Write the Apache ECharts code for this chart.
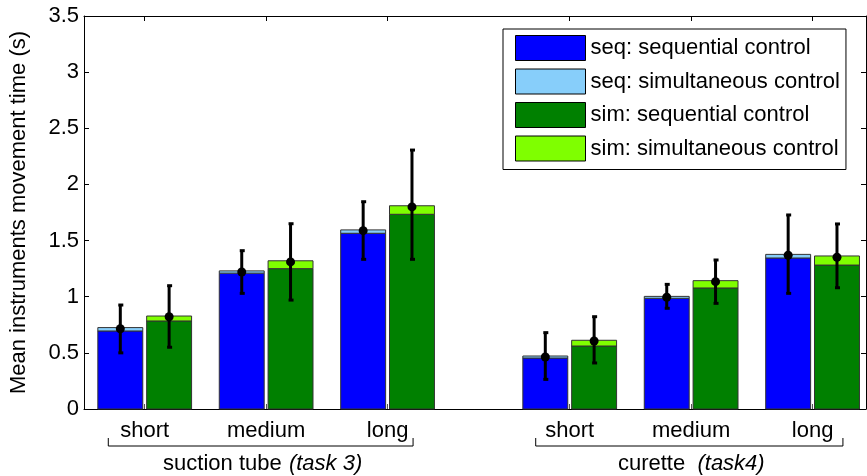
<!DOCTYPE html>
<html>
<head>
<meta charset="utf-8">
<script src="https://cdn.jsdelivr.net/npm/echarts@6/dist/echarts.min.js"></script>
<style>html,body{margin:0;padding:0;background:#fff}#c{width:867px;height:476px}</style>
</head>
<body>
<div id="c"></div>
<script>
// ---- data ----
const catLabels = ['short', 'medium', 'long', 'short', 'medium', 'long'];
const xPos = [1, 2, 3, 4.5, 5.5, 6.5];
const groupNames = ['suction tube', 'curette'];
const groupTasks = ['(task 3)', '(task4)'];
const groupStart = [0.70, 4.22];
const groupEnd = [3.21, 6.75];
const yTicks = [0, 0.5, 1, 1.5, 2, 2.5, 3, 3.5];

// seq condition (stacked): sequential control part + simultaneous control part
const seqSequential = [0.695, 1.21, 1.565, 0.454, 0.986, 1.345];
const seqSimultaneous = [0.03, 0.02, 0.03, 0.018, 0.017, 0.032];
const seqMean = [0.715, 1.22, 1.588, 0.463, 0.995, 1.369];
const seqLow = [0.50, 1.03, 1.333, 0.264, 0.897, 1.03];
const seqHigh = [0.926, 1.41, 1.846, 0.68, 1.11, 1.728];

// sim condition (stacked)
const simSequential = [0.784, 1.25, 1.734, 0.561, 1.078, 1.282];
const simSimultaneous = [0.044, 0.07, 0.076, 0.051, 0.065, 0.081];
const simMean = [0.822, 1.31, 1.80, 0.606, 1.134, 1.351];
const simLow = [0.55, 0.97, 1.333, 0.41, 0.941, 1.08];
const simHigh = [1.098, 1.65, 2.306, 0.822, 1.327, 1.648];

const names = ['seq: sequential control', 'seq: simultaneous control', 'sim: sequential control', 'sim: simultaneous control'];
const colors = ['#0000FF', '#87CEFA', '#008000', '#7FFF00'];

const FONT = 'Liberation Sans, Arial, sans-serif';
const FS = 22;
const BAR_W = 0.37;   // in x units
const OFF = 0.201;    // centre offset in x units

function barRender(offset, color) {
  return function (params, api) {
    const x = api.value(0), y0 = api.value(1), y1 = api.value(2);
    const p0 = api.coord([x + offset, y0]);
    const p1 = api.coord([x + offset, y1]);
    const w = api.size([BAR_W, 0])[0];
    return {
      type: 'rect',
      shape: { x: p0[0] - w / 2, y: p1[1], width: w, height: p0[1] - p1[1] },
      style: { fill: color, stroke: '#333', lineWidth: 1 }
    };
  };
}

function errRender(offset) {
  return function (params, api) {
    const x = api.value(0) + offset;
    const pm = api.coord([x, api.value(1)]);
    const pl = api.coord([x, api.value(2)]);
    const ph = api.coord([x, api.value(3)]);
    const cx = pm[0];
    const st = { stroke: '#000', lineWidth: 3 };
    return {
      type: 'group',
      children: [
        { type: 'line', shape: { x1: cx, y1: pl[1], x2: cx, y2: ph[1] }, style: st },
        { type: 'line', shape: { x1: cx - 2, y1: pl[1], x2: cx + 3, y2: pl[1] }, style: st },
        { type: 'line', shape: { x1: cx - 2, y1: ph[1], x2: cx + 3, y2: ph[1] }, style: st },
        { type: 'circle', shape: { cx: cx, cy: pm[1], r: 4.5 }, style: { fill: '#000' } }
      ]
    };
  };
}

function groupRender(params, api) {
  const i = params.dataIndex;
  const a = api.coord([api.value(0), 0]);
  const b = api.coord([api.value(1), 0]);
  const yb = a[1];
  return {
    type: 'group',
    children: [
      { type: 'polyline', shape: { points: [[a[0], yb + 29], [a[0], yb + 37], [b[0], yb + 37], [b[0], yb + 29]] },
        style: { stroke: '#000', lineWidth: 1, fill: null } },
      { type: 'text', style: {
          text: '{n|' + groupNames[i] + '\u00a0}{s|\u00a0}{t|' + groupTasks[i] + '}',
          x: (a[0] + b[0]) / 2 + 2, y: yb + 55, align: 'center', verticalAlign: 'middle',
          rich: { n: { fontSize: FS, fontFamily: FONT, fill: '#000' },
                  s: { fontSize: i === 1 ? FS : 4, fontFamily: FONT },
                  t: { fontSize: FS, fontFamily: FONT, fontStyle: 'italic', fill: '#000' } }
        } }
    ]
  };
}

const seqBase = xPos.map((x, i) => [x, 0, seqSequential[i]]);
const seqTop = xPos.map((x, i) => [x, seqSequential[i], seqSequential[i] + seqSimultaneous[i]]);
const simBase = xPos.map((x, i) => [x, 0, simSequential[i]]);
const simTop = xPos.map((x, i) => [x, simSequential[i], simSequential[i] + simSimultaneous[i]]);
const seqErr = xPos.map((x, i) => [x, seqMean[i], seqLow[i], seqHigh[i]]);
const simErr = xPos.map((x, i) => [x, simMean[i], simLow[i], simHigh[i]]);
const groups = groupStart.map((s, i) => [s, groupEnd[i]]);

const axisLineStyle = { lineStyle: { color: '#000', width: 1 } };
const chart = echarts.init(document.getElementById('c'), null, { renderer: 'canvas' });
chart.setOption({
  animation: false,
  backgroundColor: '#fff',
  textStyle: { fontFamily: FONT },
  grid: { left: 82, top: 16, right: 1, bottom: 67, containLabel: false },
  xAxis: [
    { type: 'value', min: 0.5, max: 6.94, position: 'bottom',
      axisLine: Object.assign({ onZero: false }, axisLineStyle),
      axisTick: { inside: true, length: 5, customValues: xPos, lineStyle: { color: '#555' } },
      axisLabel: { customValues: xPos, fontSize: FS, color: '#000', margin: 11, fontFamily: FONT,
        formatter: v => catLabels[xPos.indexOf(v)] },
      splitLine: { show: false } },
    { type: 'value', min: 0.5, max: 6.94, position: 'top',
      axisLine: Object.assign({ onZero: false }, axisLineStyle),
      axisTick: { inside: true, length: 5, customValues: xPos, lineStyle: { color: '#000' } },
      axisLabel: { show: false }, splitLine: { show: false } }
  ],
  yAxis: [
    { type: 'value', min: 0, max: 3.5, interval: 0.5, position: 'left',
      name: 'Mean instruments movement time (s)', nameLocation: 'middle', nameGap: 54,
      nameTextStyle: { fontSize: FS, color: '#000', fontFamily: FONT },
      axisLine: Object.assign({ show: true, onZero: false }, axisLineStyle),
      axisTick: { show: true, inside: true, length: 5, lineStyle: { color: '#000' } },
      axisLabel: { fontSize: FS, color: '#000', margin: 5, fontFamily: FONT,
        formatter: v => String(v) },
      splitLine: { show: false } },
    { type: 'value', min: 0, max: 3.5, interval: 0.5, position: 'right',
      axisLine: Object.assign({ show: true, onZero: false }, axisLineStyle),
      axisTick: { show: true, inside: true, length: 5, lineStyle: { color: '#000' } },
      axisLabel: { show: false }, splitLine: { show: false } }
  ],
  legend: {
    orient: 'vertical', left: 503, top: 29, selectedMode: false,
    data: names, icon: 'rect', itemWidth: 70, itemHeight: 25, itemGap: 7.5,
    padding: [6, 6, 8, 12], borderColor: '#000', borderWidth: 1, backgroundColor: '#fff',
    textStyle: { fontSize: FS, color: '#000', fontFamily: FONT },
    itemStyle: { borderColor: '#000', borderWidth: 1 }
  },
  series: [
    { name: names[0], type: 'custom', renderItem: barRender(-OFF, colors[0]), data: seqBase, itemStyle: { color: colors[0] }, encode: { x: 0, y: [1, 2] }, z: 2 },
    { name: names[1], type: 'custom', renderItem: barRender(-OFF, colors[1]), data: seqTop, itemStyle: { color: colors[1] }, encode: { x: 0, y: [1, 2] }, z: 2 },
    { name: names[2], type: 'custom', renderItem: barRender(OFF, colors[2]), data: simBase, itemStyle: { color: colors[2] }, encode: { x: 0, y: [1, 2] }, z: 2 },
    { name: names[3], type: 'custom', renderItem: barRender(OFF, colors[3]), data: simTop, itemStyle: { color: colors[3] }, encode: { x: 0, y: [1, 2] }, z: 2 },
    { name: 'seqErr', type: 'custom', renderItem: errRender(-OFF), data: seqErr, encode: { x: 0, y: [1, 2, 3] }, z: 3 },
    { name: 'simErr', type: 'custom', renderItem: errRender(OFF), data: simErr, encode: { x: 0, y: [1, 2, 3] }, z: 3 },
    { name: 'groups', type: 'custom', renderItem: groupRender, data: groups, clip: false, encode: { x: [0, 1] }, z: 3, silent: true }
  ]
});
</script>
</body>
</html>
